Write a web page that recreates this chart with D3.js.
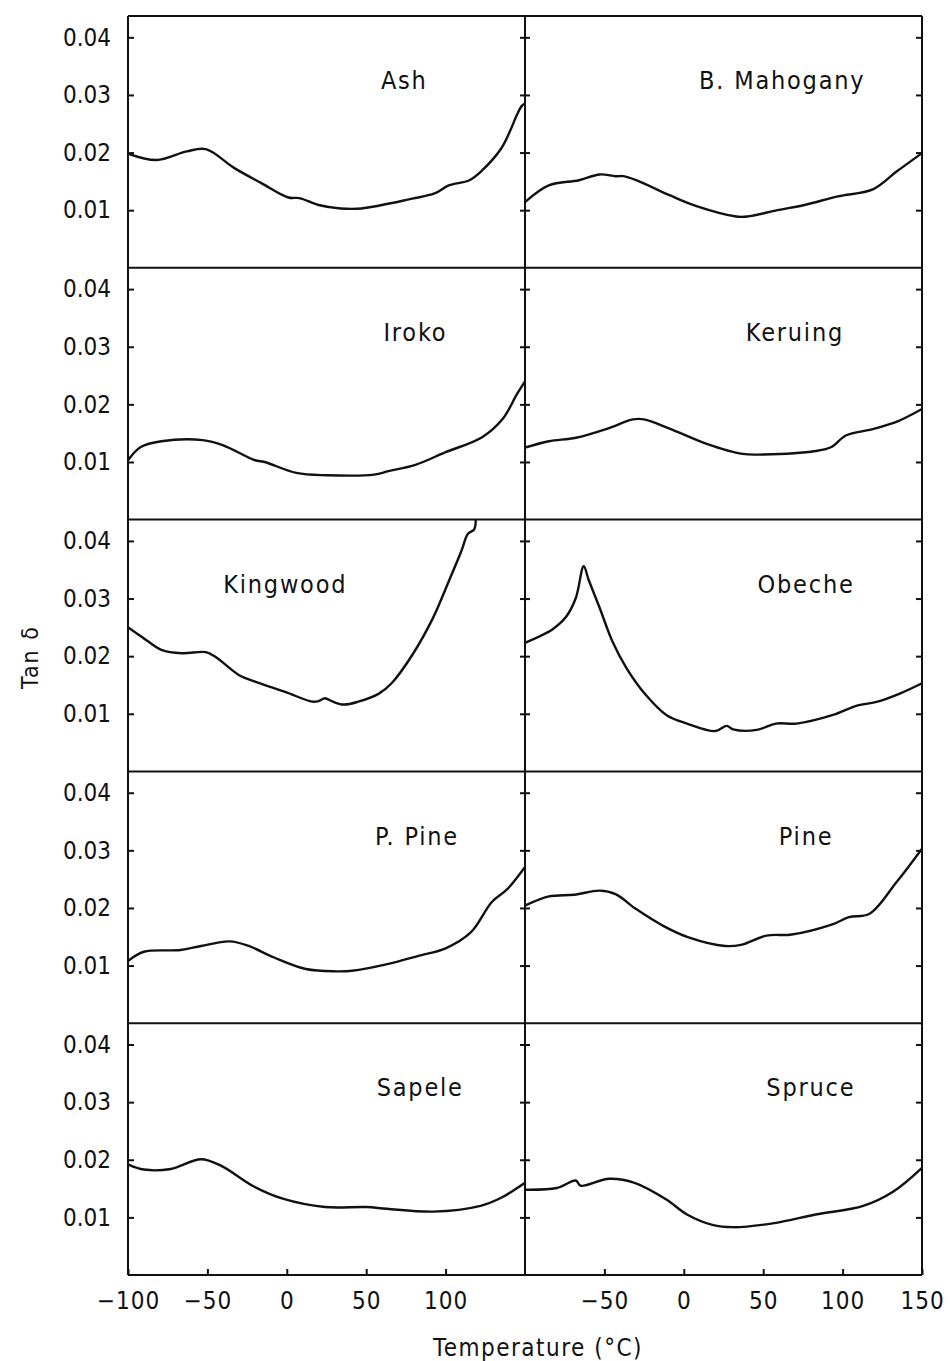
<!DOCTYPE html>
<html>
<head>
<meta charset="utf-8">
<script src="https://cdn.jsdelivr.net/npm/d3@7"></script>
<style>
  body { margin: 0; background: #fff; }
  text { font-family: "DejaVu Sans Condensed", "DejaVu Sans", sans-serif; font-stretch: condensed; fill: #111; }
</style>
</head>
<body>
<div id="graphicContainer"></div>
<script>

// tan delta vs temperature (°C)
var ash = [[-100,0.0198],[-82,0.0187],[-63,0.0202],[-51,0.0206],[-33,0.0173],[-16,0.0147],[1,0.0122],[8,0.0121],[20,0.0109],[34,0.0103],[47,0.0103],[79,0.0120],[93,0.0129],[102,0.0143],[115,0.0152],[123,0.0169],[135,0.0207],[141,0.0240],[145,0.0266],[148,0.0281],[150,0.0285]]
var mahogany = [[-100,0.0114],[-85,0.0143],[-66,0.0152],[-53,0.0162],[-43,0.0159],[-38,0.0159],[-30,0.0152],[-9,0.0126],[8,0.0107],[33,0.0089],[40,0.0089],[59,0.0100],[76,0.0109],[97,0.0124],[119,0.0136],[134,0.0167],[150,0.0199]]
var iroko = [[-100,0.0103],[-92,0.0126],[-79,0.0136],[-53,0.0138],[-40,0.0129],[-20,0.0103],[-14,0.0100],[6,0.0081],[25,0.0077],[55,0.0078],[64,0.0084],[81,0.0095],[100,0.0117],[123,0.0143],[136,0.0175],[145,0.0218],[150,0.0240]]
var keruing = [[-100,0.0125],[-85,0.0136],[-68,0.0142],[-48,0.0158],[-32,0.0174],[-25,0.0174],[-9,0.0158],[14,0.0132],[37,0.0114],[50,0.0113],[83,0.0119],[93,0.0126],[102,0.0146],[119,0.0157],[135,0.0171],[150,0.0192]]
var kingwood = [[-100,0.0250],[-91,0.0233],[-79,0.0211],[-66,0.0205],[-51,0.0207],[-45,0.0199],[-30,0.0167],[-20,0.0156],[-1,0.0138],[16,0.0121],[20,0.0122],[24,0.0127],[29,0.0121],[36,0.0116],[45,0.0121],[58,0.0135],[66,0.0153],[79,0.0202],[92,0.0266],[102,0.0330],[110,0.0383],[114,0.0412],[118,0.0420],[119,0.0440]]
var obeche = [[-100,0.0223],[-89,0.0237],[-83,0.0246],[-74,0.0269],[-68,0.0301],[-63,0.0356],[-60,0.0333],[-53,0.0284],[-45,0.0226],[-36,0.0179],[-24,0.0133],[-11,0.0098],[2,0.0083],[20,0.0070],[27,0.0079],[31,0.0073],[46,0.0072],[58,0.0083],[71,0.0083],[94,0.0098],[109,0.0114],[122,0.0121],[136,0.0135],[150,0.0153]]
var pPine = [[-100,0.0108],[-90,0.0124],[-67,0.0127],[-54,0.0134],[-36,0.0142],[-24,0.0134],[-8,0.0114],[12,0.0094],[31,0.0090],[41,0.0091],[64,0.0103],[83,0.0117],[100,0.0130],[116,0.0158],[129,0.0210],[139,0.0233],[150,0.0271]]
var pine = [[-100,0.0204],[-85,0.0220],[-69,0.0223],[-53,0.0230],[-43,0.0224],[-30,0.0198],[-13,0.0169],[3,0.0149],[26,0.0134],[36,0.0136],[52,0.0152],[68,0.0154],[94,0.0172],[104,0.0184],[117,0.0190],[134,0.0245],[150,0.0303]]
var sapele = [[-100,0.0192],[-90,0.0183],[-73,0.0184],[-54,0.0201],[-41,0.0189],[-21,0.0154],[-2,0.0132],[24,0.0118],[50,0.0118],[63,0.0115],[92,0.0110],[122,0.0120],[135,0.0134],[150,0.0160]]
var spruce = [[-100,0.0148],[-80,0.0151],[-68,0.0164],[-65,0.0155],[-47,0.0167],[-31,0.0160],[-11,0.0131],[2,0.0105],[18,0.0087],[31,0.0083],[57,0.0090],[83,0.0105],[113,0.0120],[132,0.0145],[150,0.0186]]

var species = ["Ash", "B. Mahogany", "Iroko", "Keruing", "Kingwood", "Obeche", "P. Pine", "Pine", "Sapele", "Spruce"]
var curves = [ash, mahogany, iroko, keruing, kingwood, obeche, pPine, pine, sapele, spruce]
var labelTemps = [74, 62, 81, 70, -1, 77, 82, 77, 84, 80]
var labelValue = 0.031
var yTicks = [0.01, 0.02, 0.03, 0.04]
var xTicksLeft = [-100, -50, 0, 50, 100]
var xTicksRight = [-50, 0, 50, 100, 150]

var width = 950
var height = 1361
var margin = { top: 16, right: 28, bottom: 86, left: 128 }
var colW = (width - margin.left - margin.right) / 2
var rowH = (height - margin.top - margin.bottom) / 5
var ink = "#111"

var svg = d3.select("#graphicContainer").append("svg").attr("width", width).attr("height", height)

var features = svg.append("g").attr("transform", "translate(" + margin.left + "," + margin.top + ")")

var x = d3.scaleLinear().domain([-100, 150]).range([0, colW])
var y = d3.scaleLinear().domain([0, 0.0437]).range([rowH, 0])

var line = d3.line()
  .x((d) => x(d[0]))
  .y((d) => y(d[1]))
  .curve(d3.curveCatmullRom.alpha(0.5))

function styleAxis(g, size, spacing) {
  g.select(".domain").remove()
  g.selectAll(".tick line").attr("stroke", ink).attr("stroke-width", 2)
  g.selectAll(".tick text").attr("font-size", size).style("letter-spacing", spacing + "px")
}

for (var i = 0; i < curves.length; i++) {

  var col = i % 2
  var row = Math.floor(i / 2)

  var panel = features.append("g").attr("transform", "translate(" + (col * colW) + "," + (row * rowH) + ")")

  panel.append("clipPath").attr("id", "clip" + i)
    .append("rect").attr("width", colW).attr("height", rowH)

  panel.append("path")
    .datum(curves[i])
    .attr("clip-path", "url(#clip" + i + ")")
    .attr("fill", "none")
    .attr("stroke", ink)
    .attr("stroke-width", 2.4)
    .attr("stroke-linejoin", "round")
    .attr("d", line)

  panel.append("text")
    .attr("x", x(labelTemps[i]))
    .attr("y", y(labelValue))
    .attr("text-anchor", "middle")
    .attr("font-size", 25)
    .style("letter-spacing", "1.8px")
    .text(species[i])

  if (col === 0) {
    panel.append("g")
      .call(d3.axisLeft(y).tickValues(yTicks).tickSize(-6).tickPadding(17).tickFormat(d3.format(".2f")))
      .call((g) => styleAxis(g, 24, 0))
    panel.append("g").attr("transform", "translate(" + colW + ",0)")
      .call(d3.axisLeft(y).tickValues(yTicks).tickSize(5).tickFormat(""))
      .call((g) => styleAxis(g, 24, 0))
  } else {
    panel.append("g")
      .call(d3.axisRight(y).tickValues(yTicks).tickSize(5).tickFormat(""))
      .call((g) => styleAxis(g, 24, 0))
    panel.append("g").attr("transform", "translate(" + colW + ",0)")
      .call(d3.axisLeft(y).tickValues(yTicks).tickSize(6).tickFormat(""))
      .call((g) => styleAxis(g, 24, 0))
  }

  if (row === 4) {
    panel.append("g").attr("transform", "translate(0," + rowH + ")")
      .call(d3.axisBottom(x).tickValues(col === 0 ? xTicksLeft : xTicksRight).tickSize(-6).tickPadding(17))
      .call((g) => styleAxis(g, 24, 1))
  }

}

// frame: three verticals, six row lines
for (var c = 0; c <= 2; c++) {
  features.append("line")
    .attr("x1", c * colW).attr("x2", c * colW)
    .attr("y1", 0).attr("y2", 5 * rowH)
    .attr("stroke", ink).attr("stroke-width", 2)
}
for (var r = 0; r <= 5; r++) {
  features.append("line")
    .attr("x1", 0).attr("x2", 2 * colW)
    .attr("y1", r * rowH).attr("y2", r * rowH)
    .attr("stroke", ink).attr("stroke-width", 2)
}

svg.append("text")
  .attr("transform", "translate(38," + 657 + ") rotate(-90)")
  .attr("text-anchor", "middle")
  .attr("font-size", 23)
  .style("letter-spacing", "2px")
  .text("Tan δ")

svg.append("text")
  .attr("x", 538)
  .attr("y", 1356)
  .attr("text-anchor", "middle")
  .attr("font-size", 24)
  .style("letter-spacing", "1.5px")
  .text("Temperature (°C)")

</script>
</body>
</html>
